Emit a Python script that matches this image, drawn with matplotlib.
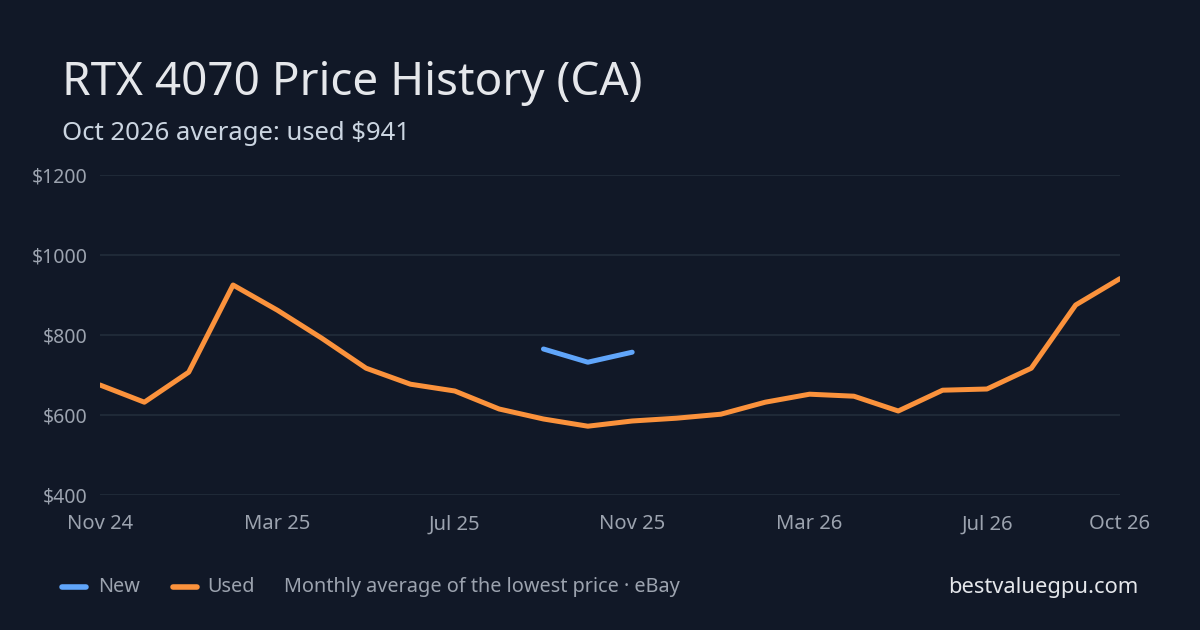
import numpy as np
import matplotlib.pyplot as plt
from matplotlib.lines import Line2D

months = ["Nov 24", "Dec 24", "Jan 25", "Feb 25", "Mar 25", "Apr 25", "May 25", "Jun 25",
          "Jul 25", "Aug 25", "Sep 25", "Oct 25", "Nov 25", "Dec 25", "Jan 26", "Feb 26",
          "Mar 26", "Apr 26", "May 26", "Jun 26", "Jul 26", "Aug 26", "Sep 26", "Oct 26"]
used = [675, 632, 707, 925, 862, 792, 717, 677, 660, 615, 590, 572, 585, 592, 602, 632,
        652, 647, 610, 662, 665, 717, 875, 941]
new_months = ["Sep 25", "Oct 25", "Nov 25"]
new = [765, 732, 757]
tick_labels = ["Nov 24", "Mar 25", "Jul 25", "Nov 25", "Mar 26", "Jul 26", "Oct 26"]
y_ticks = [400, 600, 800, 1000, 1200]

bg = "#111827"
grid_c = "#1f2937"
muted = "#9ca3af"
orange = "#fb923c"
blue = "#60a5fa"

plt.rcParams['font.family'] = ['Noto Sans', 'DejaVu Sans']

fig = plt.figure(figsize=(12, 6.3), dpi=100, facecolor=bg)
ax = fig.add_axes([100/1200, 1-495/630, 1020/1200, 320/630], facecolor=bg)

x = np.arange(len(months))
xn = [months.index(m) for m in new_months]
ax.plot(x, used, color=orange, lw=3.6, solid_capstyle='round', solid_joinstyle='round', zorder=3)
ax.plot(xn, new, color=blue, lw=3.6, solid_capstyle='round', solid_joinstyle='round', zorder=3)

ax.set_xlim(0, len(months) - 1)
ax.set_ylim(400, 1200)
ax.set_yticks(y_ticks)
ax.set_yticklabels([f"${v}" for v in y_ticks])
ax.set_xticks([months.index(t) for t in tick_labels])
ax.set_xticklabels(tick_labels)
ax.grid(axis='y', color=grid_c, lw=1.5)
ax.set_axisbelow(True)
for s in ax.spines.values():
    s.set_visible(False)
ax.tick_params(length=0, colors=muted)
ax.tick_params(axis='y', pad=9, labelsize=14)
ax.tick_params(axis='x', pad=14, labelsize=14.5)

fig.text(62/1200, 1-95/630, "RTX 4070 Price History (CA)", color="#e5e7eb", fontsize=33)
fig.text(62/1200, 1-140/630, "Oct 2026 average: used $941", color="#cbd5e1", fontsize=18.5)

# legend / footer
ly = 1-587/630
fig.add_artist(Line2D([62/1200, 86/1200], [ly, ly], color=blue, lw=4, solid_capstyle='round'))
fig.text(98/1200, ly, "New", color=muted, fontsize=14.3, va='center')
fig.add_artist(Line2D([173/1200, 197/1200], [ly, ly], color=orange, lw=4, solid_capstyle='round'))
fig.text(207/1200, ly, "Used", color=muted, fontsize=14.3, va='center')
fig.text(284/1200, ly, "Monthly average of the lowest price · eBay", color=muted, fontsize=14.3, va='center')
fig.text(1138/1200, ly, "bestvaluegpu.com", color="#e5e7eb", fontsize=15.8, va='center', ha='right')

fig.savefig("out.png", dpi=100, facecolor=bg)
